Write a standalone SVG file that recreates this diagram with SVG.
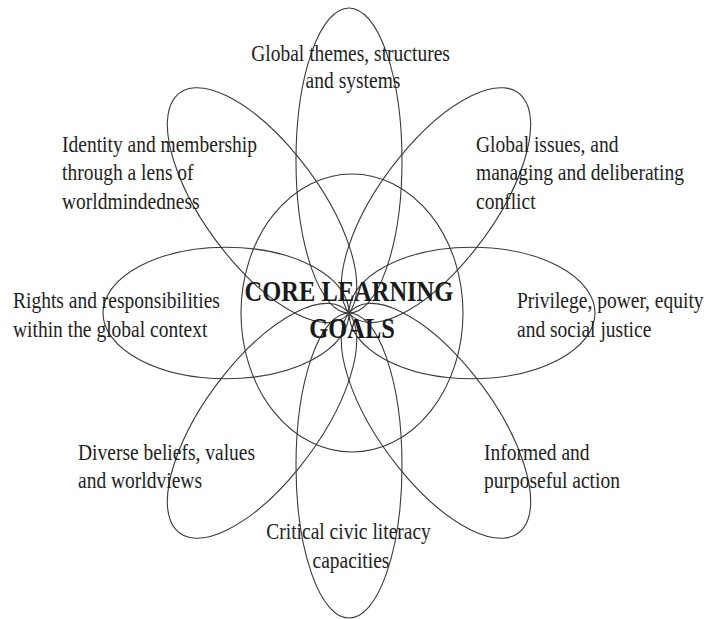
<svg xmlns="http://www.w3.org/2000/svg" width="707" height="619" viewBox="0 0 707 619">
  <style>
    .petal { fill: none; stroke: #3a3a3a; stroke-width: 1.1; vector-effect: non-scaling-stroke; }
    .hub { fill: none; stroke: #3a3a3a; stroke-width: 1.1; }
    .lbl { font-family: "Liberation Serif", "Times New Roman", serif; font-size: 19.5px; fill: #1e1e1e; }
    .mid { text-anchor: middle; }
    .core { font-family: "Liberation Serif", "Times New Roman", serif; font-size: 24.5px; font-weight: bold; fill: #1a1a1a; text-anchor: middle; }
  </style>
  <rect width="707" height="619" fill="#ffffff"/>

  <!-- petals: one ellipse per goal, all meeting at the hub centre -->
  <g id="petals" transform="translate(349,313) scale(1,1.24)">
    <g id="petal-top"><ellipse class="petal" cx="123" cy="0" rx="123" ry="53" transform="rotate(-90)"/></g>
    <g id="petal-top-right"><ellipse class="petal" cx="123" cy="0" rx="123" ry="53" transform="rotate(-45)"/></g>
    <g id="petal-right"><ellipse class="petal" cx="123" cy="0" rx="123" ry="53"/></g>
    <g id="petal-bottom-right"><ellipse class="petal" cx="123" cy="0" rx="123" ry="53" transform="rotate(45)"/></g>
    <g id="petal-bottom"><ellipse class="petal" cx="123" cy="0" rx="123" ry="53" transform="rotate(90)"/></g>
    <g id="petal-bottom-left"><ellipse class="petal" cx="123" cy="0" rx="123" ry="53" transform="rotate(135)"/></g>
    <g id="petal-left"><ellipse class="petal" cx="123" cy="0" rx="123" ry="53" transform="rotate(180)"/></g>
    <g id="petal-top-left"><ellipse class="petal" cx="123" cy="0" rx="123" ry="53" transform="rotate(225)"/></g>
  </g>

  <!-- central hub -->
  <g id="core">
    <ellipse class="hub" cx="352" cy="313" rx="111" ry="139"/>
    <text class="core" transform="translate(352,300.5) scale(1,1.18)">
      <tspan x="0" y="0">CORE LEARNING</tspan>
      <tspan x="0" y="31.5">GOALS</tspan>
    </text>
  </g>

  <!-- goal labels -->
  <g id="goal-themes">
    <text class="lbl mid" transform="translate(353,60.7) scale(1,1.22)">
      <tspan x="0" y="0">Global themes, structures</tspan>
      <tspan x="0" y="22.5">and systems</tspan>
    </text>
  </g>
  <g id="goal-identity">
    <text class="lbl" transform="translate(62,151.7) scale(1,1.22)">
      <tspan x="0" y="0">Identity and membership</tspan>
      <tspan x="0" y="23.3">through a lens of</tspan>
      <tspan x="0" y="46.6">worldmindedness</tspan>
    </text>
  </g>
  <g id="goal-issues">
    <text class="lbl" transform="translate(476,151.7) scale(1,1.22)">
      <tspan x="0" y="0">Global issues, and</tspan>
      <tspan x="0" y="23.3">managing and deliberating</tspan>
      <tspan x="0" y="46.6">conflict</tspan>
    </text>
  </g>
  <g id="goal-rights">
    <text class="lbl" transform="translate(13,308) scale(1,1.22)">
      <tspan x="0" y="0">Rights and responsibilities</tspan>
      <tspan x="0" y="23.5">within the global context</tspan>
    </text>
  </g>
  <g id="goal-privilege">
    <text class="lbl" transform="translate(517,308) scale(1,1.22)">
      <tspan x="0" y="0">Privilege, power, equity</tspan>
      <tspan x="0" y="23.5">and social justice</tspan>
    </text>
  </g>
  <g id="goal-beliefs">
    <text class="lbl" transform="translate(78,460) scale(1,1.22)">
      <tspan x="0" y="0">Diverse beliefs, values</tspan>
      <tspan x="0" y="23">and worldviews</tspan>
    </text>
  </g>
  <g id="goal-action">
    <text class="lbl" transform="translate(484,460) scale(1,1.22)">
      <tspan x="0" y="0">Informed and</tspan>
      <tspan x="0" y="23">purposeful action</tspan>
    </text>
  </g>
  <g id="goal-literacy">
    <text class="lbl mid" transform="translate(351,539) scale(1,1.22)">
      <tspan x="0" y="0">Critical civic literacy</tspan>
      <tspan x="0" y="23.5">capacities</tspan>
    </text>
  </g>
</svg>
